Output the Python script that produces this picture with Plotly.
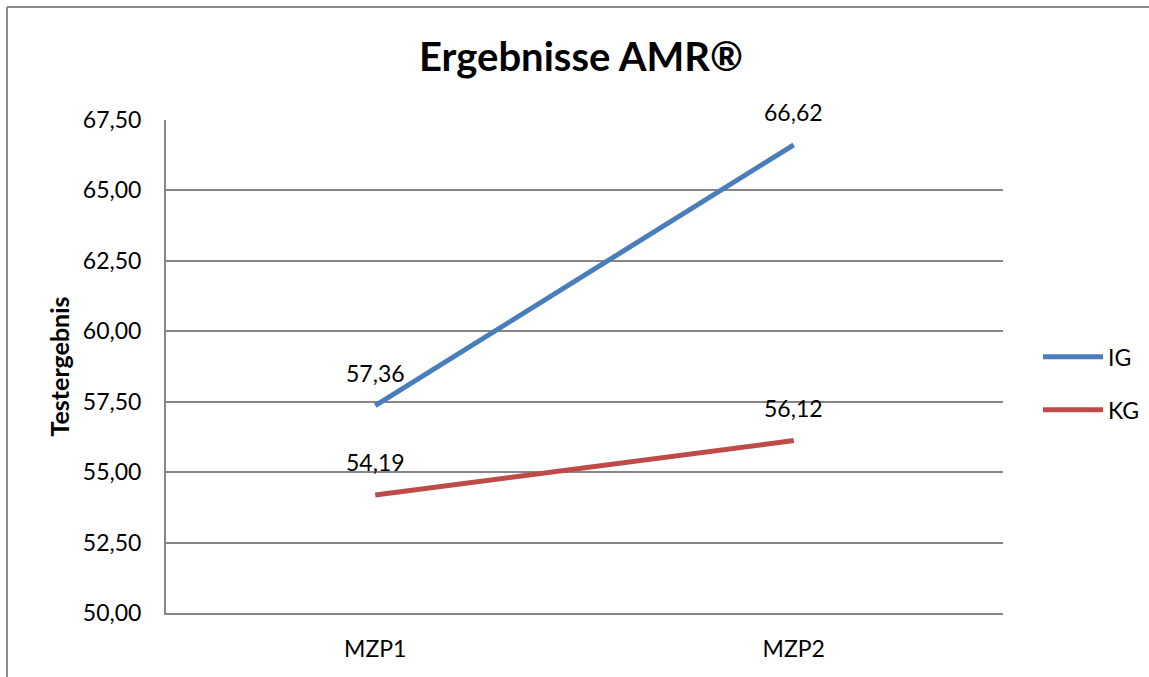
import plotly.graph_objects as go

categories = ["MZP1", "MZP2"]
ig_values = [57.36, 66.62]
kg_values = [54.19, 56.12]
series_names = ["IG", "KG"]
y_ticks = [50.0, 52.5, 55.0, 57.5, 60.0, 62.5, 65.0, 67.5]

W, H = 1149, 677
L, R, T, B = 166, 146, 120, 64
pw, ph = W - L - R, H - T - B

FONT = "Lato"
GRID = "#868686"
FS = 23


def fmt(v):
    return f"{v:.2f}".replace(".", ",")


fig = go.Figure()
for name, vals, color in [
    (series_names[0], ig_values, "#4A7EBB"),
    (series_names[1], kg_values, "#BE4B48"),
]:
    fig.add_trace(go.Scatter(
        x=categories, y=vals, name=name, legendgroup=name,
        mode="lines",
        line=dict(color=color, width=5),
    ))
    # value labels above each point
    for c, v in zip(categories, vals):
        fig.add_annotation(x=c, y=v, text=fmt(v), showarrow=False, yshift=33,
                           font=dict(family=FONT, size=FS, color="#000000"))

fig.update_layout(
    width=W, height=H,
    margin=dict(l=L, r=R, t=T, b=B, pad=0, autoexpand=False),
    paper_bgcolor="white", plot_bgcolor="white",
    font=dict(family=FONT, size=FS, color="#000000"),
    title=dict(text="<b>Ergebnisse AMR®</b>", x=581 / W, xanchor="center",
               y=1 - 57 / H, yanchor="middle",
               font=dict(family=FONT, size=40, color="#000000")),
    showlegend=True,
    legend=dict(x=(1038 - L) / pw, y=1 - (361 - T) / ph + 0.052, xanchor="left", yanchor="top",
                font=dict(family=FONT, size=FS), tracegroupgap=20,
                bgcolor="rgba(0,0,0,0)", itemwidth=60),
    xaxis=dict(type="category", range=[-0.5, 1.5], showgrid=False,
               showline=True, linecolor=GRID, linewidth=2, ticks="",
               tickfont=dict(family=FONT, size=FS), ticklabelstandoff=14),
    yaxis=dict(range=[50, 67.5], tickvals=y_ticks, ticktext=[fmt(v) for v in y_ticks],
               showgrid=True, gridcolor=GRID, gridwidth=1.5,
               showline=True, linecolor=GRID, linewidth=2, ticks="",
               zeroline=False, tickfont=dict(family=FONT, size=FS),
               ticklabelstandoff=18,
               title=dict(text="<b>Testergebnis</b>", font=dict(family=FONT, size=25),
                          standoff=6)),
)

# outer chart frame (left and top edges)
fx = (7 - L) / pw
fy = 1 + (T - 7) / ph
fig.add_shape(type="line", xref="paper", yref="paper", x0=fx, x1=fx, y0=-2, y1=fy,
              line=dict(color="#8C8C8C", width=2))
fig.add_shape(type="line", xref="paper", yref="paper", x0=fx, x1=2, y0=fy, y1=fy,
              line=dict(color="#8C8C8C", width=2))

fig.write_html("out.html")
